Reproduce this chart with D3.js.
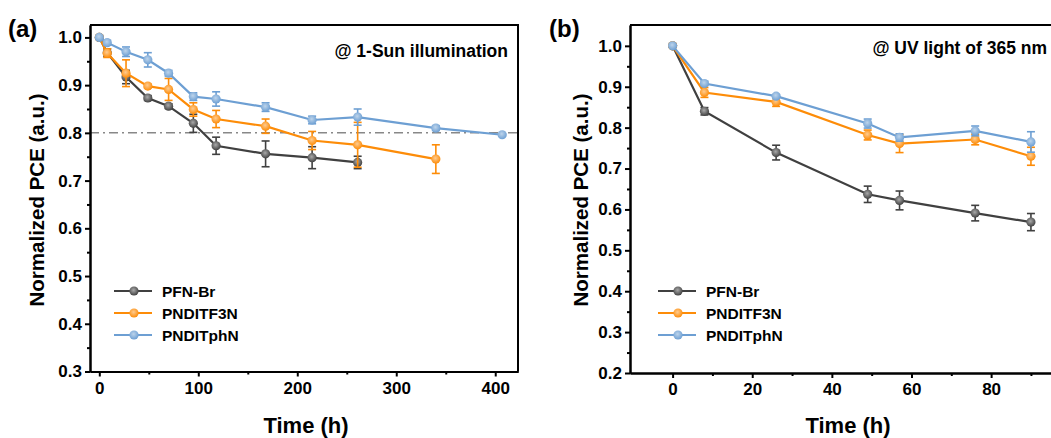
<!DOCTYPE html>
<html>
<head>
<meta charset="utf-8">
<script src="https://cdn.jsdelivr.net/npm/d3@7"></script>
<style>
  body { margin: 0; background: #fff; }
  svg { display: block; font-family: "Liberation Sans", Arial, sans-serif; font-weight: bold; }
</style>
</head>
<body>
<div id="chart"></div>
<script>
//series names and colors
var seriesNames = ["PFN-Br", "PNDITF3N", "PNDITphN"];
var seriesColors = ["#404040", "#fd8c08", "#6d9fd3"];

//panel (a) data: 1-Sun illumination
var timeA = [0, 8, 27, 49, 70, 95, 118, 168, 215, 261, 340, 407];
var pfnA = [1.0, 0.968, 0.917, 0.873, 0.856, 0.820, 0.773, 0.756, 0.748, 0.738];
var pfnErrA = [0, 0.008, 0.014, 0.005, 0.005, 0.019, 0.018, 0.027, 0.023, 0.013];
var f3nA = [1.0, 0.967, 0.925, 0.898, 0.891, 0.849, 0.829, 0.814, 0.784, 0.775, 0.745];
var f3nErrA = [0, 0.009, 0.028, 0.004, 0.023, 0.014, 0.018, 0.015, 0.019, 0.047, 0.03];
var phnA = [1.0, 0.989, 0.970, 0.953, 0.925, 0.876, 0.871, 0.854, 0.827, 0.833, 0.810, 0.796];
var phnErrA = [0, 0.005, 0.01, 0.015, 0.006, 0.008, 0.015, 0.009, 0.008, 0.017, 0.005, 0.002];

//panel (b) data: UV light 365 nm
var timeB = [0, 8, 26, 49, 57, 76, 90];
var pfnB = [1.0, 0.840, 0.739, 0.637, 0.622, 0.591, 0.569];
var pfnErrB = [0, 0.009, 0.018, 0.02, 0.023, 0.019, 0.021];
var f3nB = [1.0, 0.886, 0.863, 0.782, 0.761, 0.771, 0.730];
var f3nErrB = [0, 0.012, 0.011, 0.012, 0.022, 0.013, 0.022];
var phnB = [1.0, 0.908, 0.877, 0.810, 0.776, 0.792, 0.765];
var phnErrB = [0, 0.005, 0.004, 0.011, 0.009, 0.012, 0.025];

//tick values
var xTicksA = [0, 100, 200, 300, 400];
var xTicksB = [0, 20, 40, 60, 80];
var yTicksA = [0.3, 0.4, 0.5, 0.6, 0.7, 0.8, 0.9, 1.0];
var yTicksB = [0.2, 0.3, 0.4, 0.5, 0.6, 0.7, 0.8, 0.9, 1.0];

var svgWidth = 1051;
var svgHeight = 438;

var svg = d3.select("#chart").append("svg")
    .attr("width", svgWidth)
    .attr("height", svgHeight);

//marker gradients (light center)
var defs = svg.append("defs");
seriesColors.forEach(function(c, i) {
    var g = defs.append("radialGradient")
        .attr("id", "grad" + i)
        .attr("cx", "45%").attr("cy", "40%").attr("r", "60%");
    g.append("stop").attr("offset", "0%").attr("stop-color", d3.interpolateRgb(c, "#fff")(0.55));
    g.append("stop").attr("offset", "100%").attr("stop-color", c);
});

function zip(times, vals, errs) {
    return vals.map(function(v, i) { return { t: times[i], v: v, e: errs[i] }; });
}

function drawPanel(opt) {
    var x = d3.scaleLinear().domain(opt.xDomain).range(opt.xRange);
    var y = d3.scaleLinear().domain(opt.yDomain).range(opt.yRange);
    var g = svg.append("g");

    //reference line
    if (opt.refLine) {
        g.append("line")
            .attr("x1", opt.xRange[0]).attr("x2", opt.xRange[1])
            .attr("y1", y(opt.refLine)).attr("y2", y(opt.refLine))
            .attr("stroke", "#888").attr("stroke-width", 1.5)
            .attr("stroke-dasharray", "9,4,2,4");
    }

    //series
    opt.series.forEach(function(s, i) {
        var sg = g.append("g");
        var line = d3.line().x(d => x(d.t)).y(d => y(d.v));
        sg.append("path")
            .datum(s)
            .attr("d", line)
            .attr("fill", "none")
            .attr("stroke", seriesColors[i])
            .attr("stroke-width", 2.2);

        var eb = sg.selectAll(".err").data(s.filter(d => d.e > 0)).enter().append("g");
        eb.append("line")
            .attr("x1", d => x(d.t)).attr("x2", d => x(d.t))
            .attr("y1", d => y(d.v - d.e)).attr("y2", d => y(d.v + d.e))
            .attr("stroke", seriesColors[i]).attr("stroke-width", 1.6);
        [-1, 1].forEach(function(sign) {
            eb.append("line")
                .attr("x1", d => x(d.t) - 4).attr("x2", d => x(d.t) + 4)
                .attr("y1", d => y(d.v + sign * d.e)).attr("y2", d => y(d.v + sign * d.e))
                .attr("stroke", seriesColors[i]).attr("stroke-width", 1.6);
        });

        sg.selectAll("circle").data(s).enter().append("circle")
            .attr("cx", d => x(d.t))
            .attr("cy", d => y(d.v))
            .attr("r", 4.6)
            .attr("fill", "url(#grad" + i + ")");
    });

    //axes
    g.append("g")
        .attr("transform", `translate(0, ${opt.yRange[0]})`)
        .call(d3.axisBottom(x).tickValues(opt.xTicks).tickSize(5).tickSizeOuter(0).tickPadding(5));
    g.append("g")
        .attr("transform", `translate(0, ${opt.yRange[0]})`)
        .call(d3.axisBottom(x).tickValues(opt.xMinor).tickSize(3).tickSizeOuter(0).tickFormat(""));
    g.append("g")
        .attr("transform", `translate(${opt.xRange[0]}, 0)`)
        .call(d3.axisLeft(y).tickValues(opt.yTicks).tickSize(5).tickSizeOuter(0).tickPadding(3).tickFormat(d3.format(".1f")));
    g.append("g")
        .attr("transform", `translate(${opt.xRange[0]}, 0)`)
        .call(d3.axisLeft(y).tickValues(opt.yMinor).tickSize(3).tickSizeOuter(0).tickFormat(""));

    g.selectAll(".domain").attr("stroke", "#000").attr("stroke-width", 2);
    g.selectAll(".tick line").attr("stroke", "#000").attr("stroke-width", 2);
    g.selectAll(".tick text").attr("font-size", 17).attr("font-weight", "bold")
        .attr("font-family", "Liberation Sans, Arial, sans-serif").attr("fill", "#000");

    //frame top and right
    g.append("path")
        .attr("d", `M${opt.xRange[0]},${opt.yRange[1]}H${opt.xRange[1]}V${opt.yRange[0]}`)
        .attr("fill", "none").attr("stroke", "#000").attr("stroke-width", 2);

    //axis titles
    g.append("text")
        .attr("x", opt.xTitleX).attr("y", 433)
        .attr("text-anchor", "middle")
        .attr("font-size", 22)
        .text("Time (h)");
    g.append("text")
        .attr("transform", `translate(${opt.yTitleX}, 200) rotate(-90)`)
        .attr("text-anchor", "middle")
        .attr("font-size", 20.5)
        .text("Normalized PCE (a.u.)");

    //panel label
    g.append("text")
        .attr("x", opt.labelX).attr("y", 37)
        .attr("font-size", 24)
        .text(opt.label);

    //condition note
    g.append("text")
        .attr("x", opt.noteX).attr("y", opt.noteY)
        .attr("text-anchor", "end")
        .attr("font-size", 17.5)
        .text(opt.note);

    //legend
    var leg = g.append("g");
    seriesNames.forEach(function(name, i) {
        var ly = 291 + i * 22;
        leg.append("line")
            .attr("x1", opt.legX).attr("x2", opt.legX + 38)
            .attr("y1", ly).attr("y2", ly)
            .attr("stroke", seriesColors[i]).attr("stroke-width", 2.2);
        leg.append("circle")
            .attr("cx", opt.legX + 20).attr("cy", ly).attr("r", 4.6)
            .attr("fill", "url(#grad" + i + ")");
        leg.append("text")
            .attr("x", opt.legX + 48).attr("y", ly + 5.5)
            .attr("font-size", 15.5)
            .text(name);
    });
}

drawPanel({
    xDomain: [-9.4, 423], xRange: [90, 518],
    yDomain: [0.3, 1.026], yRange: [371.5, 25],
    xTicks: xTicksA, xMinor: [50, 150, 250, 350],
    yTicks: yTicksA, yMinor: d3.range(0.35, 1.0, 0.1),
    refLine: 0.8,
    series: [zip(timeA, pfnA, pfnErrA), zip(timeA, f3nA, f3nErrA), zip(timeA, phnA, phnErrA)],
    xTitleX: 306, yTitleX: 44,
    label: "(a)", labelX: 8,
    note: "@ 1-Sun illumination", noteX: 508, noteY: 57,
    legX: 114
});

drawPanel({
    xDomain: [-10.7, 97.3], xRange: [630, 1060],
    yDomain: [0.2, 1.051], yRange: [373, 25],
    xTicks: xTicksB, xMinor: [10, 30, 50, 70, 90],
    yTicks: yTicksB, yMinor: d3.range(0.25, 1.0, 0.1),
    refLine: null,
    series: [zip(timeB, pfnB, pfnErrB), zip(timeB, f3nB, f3nErrB), zip(timeB, phnB, phnErrB)],
    xTitleX: 848, yTitleX: 588,
    label: "(b)", labelX: 549,
    note: "@ UV light of 365 nm", noteX: 1047, noteY: 54,
    legX: 658
});
</script>
</body>
</html>
